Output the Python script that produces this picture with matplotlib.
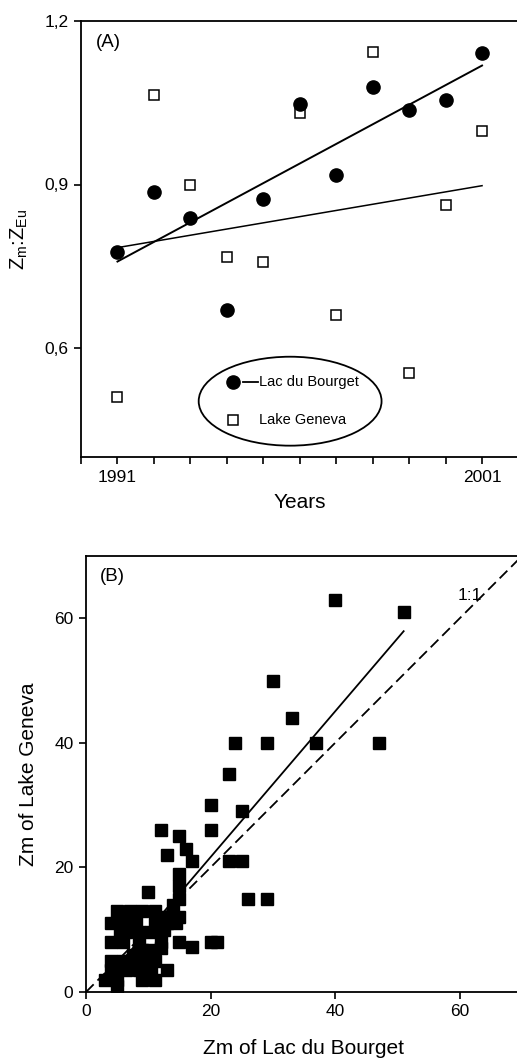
import numpy as np
import matplotlib
matplotlib.use("Agg")
import matplotlib.pyplot as plt
from matplotlib.patches import Ellipse
from matplotlib.lines import Line2D

plt.rcParams["font.family"] = ["Liberation Sans", "DejaVu Sans"]

# ── Panel A: ratio Zm:ZEu per year ───────────────────────────────────────────
years = np.arange(1991, 2002)
bourget_ratio = [0.776, 0.887, 0.838, 0.670, 0.874, 1.048,
                 0.918, 1.079, 1.037, 1.055, 1.141]
geneva_ratio = [0.510, 1.065, 0.900, 0.767, 0.758, 1.032,
                0.661, 1.143, 0.554, 0.862, 0.999]

# ── Panel B: Zm of both lakes ────────────────────────────────────────────────
zm_bourget = [40, 51, 30, 33, 24, 29, 37, 47, 23, 20, 25, 20, 12, 15, 16, 13,
              17, 23, 25, 15, 15, 10, 15, 26, 29, 14,
              5, 7, 9, 11, 13, 15,
              4, 6, 11, 13, 14.5,
              6.5, 8.5, 10.5, 12.5,
              4, 6, 8.5, 12, 15, 17, 20, 21,
              9, 10.5, 12,
              4, 6, 7, 9, 11,
              4, 5, 6.5, 8.5, 10.5, 13,
              3, 5, 9, 11,
              5, 7.5, 5.5, 8, 10]
zm_geneva = [63, 61, 50, 44, 40, 40, 40, 40, 35, 30, 29, 26, 26, 25, 23, 22,
             21, 21, 21, 19, 17, 16, 15, 15, 15, 14,
             13, 13, 13, 13, 12, 12,
             11, 11, 11, 11, 11,
             9.7, 9.7, 9.7, 10,
             8, 8, 8, 8, 8, 7.3, 8, 8,
             6.7, 6.7, 7,
             5, 5, 5, 5, 5,
             3.5, 3.5, 3.5, 3.5, 3.5, 3.5,
             2, 2, 2, 2,
             1, 6, 10, 11, 4]

W, H = 517, 1059
fig = plt.figure(figsize=(W / 100, H / 100), dpi=100)


def style_axes(ax):
    for side in ("top", "left", "bottom"):
        ax.spines[side].set_linewidth(1.3)
    ax.spines["right"].set_visible(False)
    ax.tick_params(direction="out", length=5, width=1.2, labelsize=12.5, pad=4)


# ── (A) ──────────────────────────────────────────────────────────────────────
axA = fig.add_axes([81 / W, 1 - 457 / H, 437.5 / W, 436 / H])
style_axes(axA)

kb = np.polyfit(years, bourget_ratio, 1)
kg = np.polyfit(years, geneva_ratio, 1)
axA.plot(years[[0, -1]], np.polyval(kb, years[[0, -1]]), color="black", lw=1.4)
axA.plot(years[[0, -1]], np.polyval(kg, years[[0, -1]]), color="black", lw=1.1)
axA.plot(years, geneva_ratio, "s", ms=7, mfc="white", mec="black", mew=1.1)
axA.plot(years, bourget_ratio, "o", ms=9.5, color="black")

axA.set_xlim(1990, 2002)
axA.set_ylim(0.4, 1.2)
axA.set_xticks(np.arange(1990, 2003))
axA.set_xticklabels(["1991" if y == 1991 else "2001" if y == 2001 else ""
                     for y in range(1990, 2003)])
axA.set_yticks([0.6, 0.9, 1.2])
axA.set_yticklabels(["0,6", "0,9", "1,2"])
axA.set_xlabel("Years", fontsize=15, labelpad=6)
axA.set_ylabel(r"Z$_\mathregular{m}$:Z$_\mathregular{Eu}$", fontsize=14.5,
               labelpad=10)
axA.text(0.062, 0.95, "(A)", transform=axA.transAxes, fontsize=13.5,
         ha="center", va="center")

# legend inside an ellipse
axA.add_patch(Ellipse((0.478, 0.128), 0.418, 0.204, transform=axA.transAxes,
                      fill=False, ec="black", lw=1.3))
axA.plot([0.347], [0.172], "o", ms=9.5, color="black", transform=axA.transAxes)
axA.add_line(Line2D([0.370, 0.405], [0.172, 0.172], color="black", lw=1.3,
                    transform=axA.transAxes))
axA.text(0.407, 0.172, "Lac du Bourget", transform=axA.transAxes,
         fontsize=10.5, ha="left", va="center")
axA.plot([0.347], [0.085], "s", ms=7, mfc="white", mec="black", mew=1.1,
         transform=axA.transAxes)
axA.text(0.407, 0.085, "Lake Geneva", transform=axA.transAxes,
         fontsize=10.5, ha="left", va="center")

# ── (B) ──────────────────────────────────────────────────────────────────────
axB = fig.add_axes([86 / W, 1 - 992 / H, 436 / W, 436 / H])
style_axes(axB)

xb = np.asarray(zm_bourget)
yb = np.asarray(zm_geneva)
kf = np.polyfit(xb, yb, 1)
xr = np.array([xb.min(), xb.max()])
axB.plot([0, 75], [0, 75], color="black", lw=1.3, ls=(0, (6, 3)))
axB.plot(xr, np.polyval(kf, xr), color="black", lw=1.3)
axB.plot(xb, yb, "s", ms=8, color="black")

axB.set_xlim(0, 70)
axB.set_ylim(0, 70)
axB.set_xticks([0, 20, 40, 60])
axB.set_yticks([0, 20, 40, 60])
axB.set_xlabel("Zm of Lac du Bourget", fontsize=15, labelpad=14)
axB.set_ylabel("Zm of Lake Geneva", fontsize=15, labelpad=12)
axB.text(0.06, 0.952, "(B)", transform=axB.transAxes, fontsize=13.5,
         ha="center", va="center")
axB.text(61.6, 63.6, "1:1", fontsize=12.5, ha="center", va="center")

fig.savefig("out.png", dpi=100)
